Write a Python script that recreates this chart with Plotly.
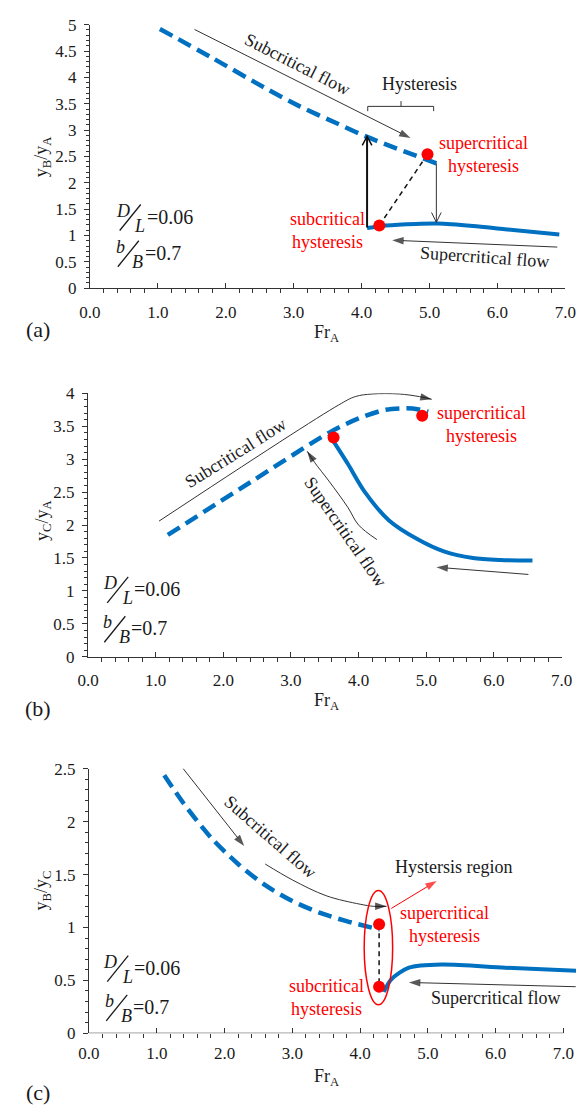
import plotly.graph_objects as go

W, H = 587, 1115

# ---------------- data ----------------
# Panel (a): yB/yA vs FrA
a_sub_x = [1.03, 1.8, 2.62, 3.09, 3.65, 4.08, 5.1]
a_sub_y = [4.92, 4.37, 3.77, 3.45, 3.12, 2.87, 2.37]
a_sup_x = [4.08, 4.36, 4.8, 5.12, 5.64, 6.11, 6.91]
a_sup_y = [1.14, 1.19, 1.22, 1.226, 1.18, 1.12, 1.02]
a_hyst_x = [4.26, 4.97]
a_hyst_y = [1.19, 2.54]

# Panel (b): yC/yA vs FrA
b_sub_x = [1.18, 2.4, 3.56, 4.0, 4.4, 4.8, 5.03]
b_sub_y = [1.85, 2.65, 3.40, 3.62, 3.75, 3.77, 3.72]
b_sup_x = [3.56, 3.84, 4.08, 4.45, 4.88, 5.26, 5.69, 6.1, 6.57]
b_sup_y = [3.38, 2.93, 2.52, 2.07, 1.78, 1.60, 1.50, 1.47, 1.46]
b_hyst_x = [3.63, 4.94]
b_hyst_y = [3.33, 3.66]

# Panel (c): yB/yC vs FrA
c_sub_x = [1.11, 1.4, 1.8, 2.2, 2.6, 3.0, 3.4, 3.8, 4.29]
c_sub_y = [2.44, 2.17, 1.85, 1.60, 1.40, 1.25, 1.14, 1.06, 0.98]
c_sup_x = [4.35, 4.46, 4.72, 5.2, 6.14, 7.19]
c_sup_y = [0.39, 0.51, 0.62, 0.65, 0.62, 0.59]
c_hyst_x = [4.28, 4.28]
c_hyst_y = [1.03, 0.44]

x_ticks = [0, 1, 2, 3, 4, 5, 6, 7]
x_ticktext = ["0.0", "1.0", "2.0", "3.0", "4.0", "5.0", "6.0", "7.0"]

# ---------------- styles ----------------
BLUE = "#0070C0"
RED = "#FF0000"
INK = "#1a1a1a"
SERIF = '"Liberation Serif", "Times New Roman", serif'
DASH = "14px,7px"


def px2paper_x(p):
    return p / W


def px2paper_y(p):
    return 1 - p / H


fig = go.Figure()

panels = [
    ("a", "x", "y", (82, 576), (16, 284), 5, 7.0),
    ("b", "x2", "y2", (80, 572), (391, 659), 4, 7.0),
    ("c", "x3", "y3", (81, 587), (773, 1042), 2.5, 7.0 * (587 - 81) / (574 - 81)),
]

series = {
    "a": (a_sub_x, a_sub_y, a_sup_x, a_sup_y, a_hyst_x, a_hyst_y),
    "b": (b_sub_x, b_sub_y, b_sup_x, b_sup_y, b_hyst_x, b_hyst_y),
    "c": (c_sub_x, c_sub_y, c_sup_x, c_sup_y, c_hyst_x, c_hyst_y),
}

for name, xr, yr, _, _, _, _ in panels:
    sx, sy, ux, uy, hx, hy = series[name]
    fig.add_trace(go.Scatter(x=sx, y=sy, xaxis=xr, yaxis=yr, mode="lines",
                             line=dict(color=BLUE, width=4.5, dash=DASH, shape="spline", smoothing=0.8),
                             showlegend=False, hoverinfo="skip"))
    fig.add_trace(go.Scatter(x=ux, y=uy, xaxis=xr, yaxis=yr, mode="lines",
                             line=dict(color=BLUE, width=4, shape="spline", smoothing=0.8),
                             showlegend=False, hoverinfo="skip"))

# black dashed connectors between hysteresis points (a) and (c)
fig.add_trace(go.Scatter(x=a_hyst_x, y=a_hyst_y, xaxis="x", yaxis="y", mode="lines",
                         line=dict(color="#111", width=1.5, dash="5px,4px"),
                         showlegend=False, hoverinfo="skip"))
fig.add_trace(go.Scatter(x=c_hyst_x, y=c_hyst_y, xaxis="x3", yaxis="y3", mode="lines",
                         line=dict(color="#111", width=1.5, dash="5px,4px"),
                         showlegend=False, hoverinfo="skip"))

layout = dict(
    width=W, height=H, margin=dict(l=0, r=0, t=0, b=0),
    paper_bgcolor="white", plot_bgcolor="white",
    font=dict(family=SERIF, color=INK, size=17),
    showlegend=False,
)

for name, xr, yr, (x0p, x1p), (y0p, y1p), ymax, xmax in panels:
    xk = "xaxis" + xr[1:]
    yk = "yaxis" + yr[1:]
    minor_vals = [round(i * 0.2, 1) for i in range(0, 36) if i % 5 != 0 and i * 0.2 <= 7.0]
    layout[xk] = dict(
        domain=[px2paper_x(x0p), px2paper_x(x1p)], range=[0, xmax], anchor=yr,
        showgrid=False, zeroline=False, showline=(name != "c"), linecolor="#333", linewidth=1,
        tickmode="array", tickvals=x_ticks, ticktext=x_ticktext,
        ticks="inside", ticklen=5, tickcolor="#333",
        minor=dict(tickmode="array", tickvals=minor_vals, ticks="outside", ticklen=4,
                   tickcolor="#333", showgrid=False),
        tickfont=dict(family=SERIF, size=17, color=INK), ticklabelstandoff=8,
        fixedrange=True,
    )
    layout[yk] = dict(
        domain=[px2paper_y(y1p), px2paper_y(y0p)], range=[0, ymax], anchor=xr,
        showgrid=False, zeroline=False, showline=True, linecolor="#333", linewidth=1,
        dtick=0.5, tick0=0, ticks="outside", ticklen=5, tickcolor="#333",
        minor=dict(dtick=0.1, ticks="outside", ticklen=3, tickcolor="#333", showgrid=False),
        tickfont=dict(family=SERIF, size=17, color=INK), ticklabelstandoff=4,
        fixedrange=True,
    )

fig.update_layout(**layout)

# red hysteresis markers
for name, xr, yr, *_ in panels:
    hx, hy = series[name][4], series[name][5]
    fig.add_trace(go.Scatter(x=hx, y=hy, xaxis=xr, yaxis=yr, mode="markers",
                             marker=dict(color=RED, size=12), showlegend=False, hoverinfo="skip"))

annotations = []
shapes = []


def text(xr, yr, x, y, s, size=18, color=INK, angle=0, xanchor="center"):
    annotations.append(dict(x=x, y=y, xref=xr, yref=yr, text=s, showarrow=False,
                            textangle=angle, xanchor=xanchor, yanchor="middle",
                            font=dict(family=SERIF, size=size, color=color)))


def arrow(xr, yr, xs, ys, color="#333", width=1, size=12, spline=False):
    n = len(xs)
    head = "#111" if color == "#333" else color
    fig.add_trace(go.Scatter(
        x=xs, y=ys, xaxis=xr, yaxis=yr, mode="lines+markers",
        line=dict(color=color, width=width, shape="spline" if spline else "linear"),
        marker=dict(symbol="arrow", size=[0] * (n - 1) + [size], angleref="previous",
                    color=head, line=dict(width=0)),
        showlegend=False, hoverinfo="skip"))


def fraction(xr, yr, x, y, num, den, rest):
    # x, y: position of the '=' sign (left edge, middle)
    annotations.append(dict(x=x, y=y, xref=xr, yref=yr, text="<i>%s</i>" % num, showarrow=False,
                            xanchor="center", yanchor="middle", xshift=-24, yshift=6,
                            font=dict(family=SERIF, size=18, color=INK)))
    annotations.append(dict(x=x, y=y, xref=xr, yref=yr, text="<i>%s</i>" % den, showarrow=False,
                            xanchor="center", yanchor="middle", xshift=-7, yshift=-9,
                            font=dict(family=SERIF, size=18, color=INK)))
    annotations.append(dict(x=x, y=y, xref=xr, yref=yr, text=rest, showarrow=False,
                            xanchor="left", yanchor="middle", xshift=-2,
                            font=dict(family=SERIF, size=20, color=INK)))
    shapes.append(dict(type="line", xref=xr, yref=yr, xsizemode="pixel", ysizemode="pixel",
                       xanchor=x, yanchor=y, x0=-27, y0=-14, x1=-6, y1=12,
                       line=dict(color=INK, width=1.3)))


# ---------- panel (a) annotations ----------
sxa = (576 - 82) / 7.0
sya = (284 - 16) / 5.0
text("x", "y", 3.05, 4.26, "Subcritical flow", angle=27)
arrow("x", "y", [1.54, 4.72], [4.91, 2.85])
text("x", "y", 4.85, 3.88, "Hysteresis")
shapes.append(dict(type="path", xref="x", yref="y",
                   path="M 4.09,3.36 L 4.09,3.45 L 5.06,3.45 L 5.06,3.36 M 4.58,3.45 L 4.58,3.55",
                   line=dict(color="#333", width=1)))
# thick up arrow (open head)
up_x, up_y0, up_y1 = 4.08, 1.15, 2.88
shapes.append(dict(type="line", xref="x", yref="y", x0=up_x, y0=up_y0, x1=up_x, y1=up_y1,
                   line=dict(color="#111", width=2)))
shapes.append(dict(type="path", xref="x", yref="y",
                   path="M %f,%f L %f,%f L %f,%f" % (up_x - 5 / sxa, up_y1 - 9 / sya, up_x, up_y1,
                                                     up_x + 5 / sxa, up_y1 - 9 / sya),
                   line=dict(color="#111", width=1.5)))
# thin down arrow (open head)
dn_x, dn_y0, dn_y1 = 5.1, 2.37, 1.25
shapes.append(dict(type="line", xref="x", yref="y", x0=dn_x, y0=dn_y0, x1=dn_x, y1=dn_y1,
                   line=dict(color="#333", width=1)))
shapes.append(dict(type="path", xref="x", yref="y",
                   path="M %f,%f L %f,%f L %f,%f" % (dn_x - 5 / sxa, dn_y1 + 10 / sya, dn_x, dn_y1,
                                                     dn_x + 5 / sxa, dn_y1 + 10 / sya),
                   line=dict(color="#333", width=1)))
text("x", "y", 5.80, 2.54, "supercritical<br>hysteresis", size=18, color=RED)
text("x", "y", 3.50, 1.10, "subcritical<br>hysteresis", size=18, color=RED)
arrow("x", "y", [6.88, 4.45], [0.78, 0.91])
text("x", "y", 5.81, 0.60, "Supercritical flow", angle=4)
fraction("x", "y", 0.836, 1.36, "D", "L", "=0.06")
fraction("x", "y", 0.808, 0.672, "b", "B", "=0.7")

# ---------- panel (b) annotations ----------
arrow("x2", "y2", [1.05, 3.7, 3.95, 4.2, 4.6, 4.9, 5.08], [2.06, 3.82, 3.95, 3.99, 3.99, 3.95, 3.91],
      spline=True)
text("x2", "y2", 2.18, 3.09, "Subcritical flow", angle=-32)
arrow("x2", "y2", [4.27, 4.0, 3.84, 3.56, 3.35, 3.24], [1.78, 2.0, 2.27, 2.67, 2.95, 3.12], spline=True)
text("x2", "y2", 3.81, 1.90, "Supercritical flow", angle=55)
arrow("x2", "y2", [6.51, 5.15], [1.25, 1.36])
text("x2", "y2", 5.82, 3.52, "supercritical<br>hysteresis", size=18, color=RED)
fraction("x2", "y2", 0.683, 1.03, "D", "L", "=0.06")
fraction("x2", "y2", 0.64, 0.433, "b", "B", "=0.7")

# ---------- panel (c) annotations ----------
arrow("x3", "y3", [1.38, 2.29], [2.51, 1.77])
text("x3", "y3", 2.68, 1.86, "Subcritical flow", angle=41)
arrow("x3", "y3", [2.6, 3.0, 3.5, 4.0, 4.2, 4.39], [1.60, 1.45, 1.30, 1.22, 1.20, 1.20], spline=True)
shapes.append(dict(type="circle", xref="x3", yref="y3", x0=4.06, x1=4.48, y0=0.27, y1=1.35,
                   line=dict(color=RED, width=1.5)))
arrow("x3", "y3", [4.46, 5.13], [1.18, 1.44], color=RED)
text("x3", "y3", 5.38, 1.57, "Hystersis region")
text("x3", "y3", 5.24, 1.03, "supercritical<br>hysteresis", size=18, color=RED)
text("x3", "y3", 3.51, 0.335, "subcritical<br>hysteresis", size=18, color=RED)
arrow("x3", "y3", [7.18, 4.72], [0.44, 0.48])
text("x3", "y3", 5.99, 0.335, "Supercritical flow")
fraction("x3", "y3", 0.668, 0.62, "D", "L", "=0.06")
fraction("x3", "y3", 0.653, 0.25, "b", "B", "=0.7")
# x axis line for (c), ending at 7.0
shapes.append(dict(type="line", xref="x3", yref="y3", x0=0, x1=7.0, y0=0, y1=0,
                   line=dict(color="#333", width=1)))


# ---------- axis titles and panel labels (paper coords) ----------
def ptext(xp, yp, s, size=18, angle=0):
    annotations.append(dict(x=px2paper_x(xp), y=px2paper_y(yp), xref="paper", yref="paper",
                            text=s, showarrow=False, textangle=angle, xanchor="center",
                            yanchor="middle", font=dict(family=SERIF, size=size, color=INK)))


ptext(33, 150, "y<sub>B</sub>/y<sub>A</sub>", angle=-90)
ptext(33, 520, "y<sub>C</sub>/y<sub>A</sub>", angle=-90)
ptext(33, 897, "y<sub>B</sub>/y<sub>C</sub>", angle=-90)
ptext(328, 330, "Fr<sub>A</sub>")
ptext(328, 705, "Fr<sub>A</sub>")
ptext(328, 1087, "Fr<sub>A</sub>")
ptext(28, 326, "(a)", size=22)
ptext(28, 712, "(b)", size=22)
ptext(28, 1102, "(c)", size=22)

fig.update_layout(annotations=annotations, shapes=shapes)
fig.write_html("out.html", config={"displayModeBar": False, "staticPlot": True},
               post_script="document.body.style.margin='0';document.body.style.overflow='hidden';")
